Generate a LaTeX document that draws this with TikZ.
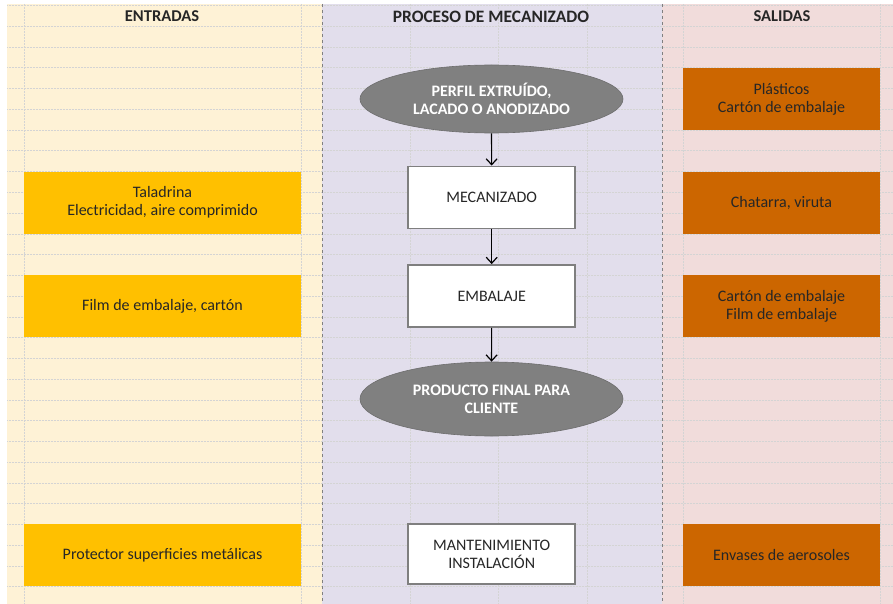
\documentclass[tikz,border=0pt]{standalone}
\usepackage{fontspec}
\setmainfont{Carlito}
\usetikzlibrary{arrows.meta,shapes.geometric}
\definecolor{leftbg}{HTML}{FEF2D6}
\definecolor{midbg}{HTML}{E2DEEC}
\definecolor{rightbg}{HTML}{F1DCDB}
\definecolor{inyel}{HTML}{FFC000}
\definecolor{outor}{HTML}{CC6600}
\definecolor{ellgray}{HTML}{808080}
\definecolor{boxline}{HTML}{7F7F7F}
\definecolor{gridc}{HTML}{D4D4D4}
\definecolor{txt}{HTML}{262626}
\tikzset{
  gridline/.style={gridc, line width=0.5pt, densely dotted},
  divider/.style={gray, line width=0.7pt, dashed},
  hdr/.style={font=\fontsize{16.5}{18}\selectfont\bfseries, text=txt},
  inbox/.style={rectangle, fill=inyel, minimum width=277pt, minimum height=62pt, align=center, text=txt, font=\fontsize{16}{18}\selectfont, inner sep=0pt},
  outbox/.style={rectangle, fill=outor, minimum width=197pt, minimum height=62pt, align=center, text=txt, font=\fontsize{16}{18}\selectfont, inner sep=0pt},
  procbox/.style={rectangle, draw=boxline, line width=1.8pt, fill=white, minimum width=167pt, minimum height=62pt, align=center, text=txt, font=\fontsize{16}{18}\selectfont, inner sep=0pt},
  terminal/.style={ellipse, fill=ellgray, draw=ellgray!85!black, line width=0.6pt, minimum width=263pt, minimum height=70pt, align=center, text=white, font=\fontsize{16}{18}\selectfont\bfseries, inner sep=0pt},
  flow/.style={-{Straight Barb[length=6pt,width=11pt]}, line width=1.2pt, black}
}
\begin{document}
\begin{tikzpicture}[x=1pt,y=-1pt]
\path[use as bounding box] (0,0) rectangle (893,604);
\fill[white] (0,0) rectangle (893,604);
\fill[leftbg] (7,4) rectangle (322,604);
\fill[midbg] (322,4) rectangle (662,604);
\fill[rightbg] (662,4) rectangle (893,604);
% grid
\foreach \i in {0,...,28} {
  \draw[gridline] (7,{5.5+\i*20.75}) -- (893,{5.5+\i*20.75});
}
\foreach \x in {24,301,410,498,587,683,880} {
  \draw[gridline] (\x,4) -- (\x,604);
}
\draw[divider] (322,4) -- (322,604);
\draw[divider] (662,4) -- (662,604);
% headers
\node[hdr] (hin) at (162,16.5) {ENTRADAS};
\node[hdr, font=\fontsize{17.4}{18}\selectfont\bfseries] (hproc) at (491,16.5) {PROCESO DE MECANIZADO};
\node[hdr] (hout) at (782,16.5) {SALIDAS};
% inputs
\node[inbox] (in1) at (162.5,202.6) {Taladrina\\Electricidad, aire comprimido};
\node[inbox] (in2) at (162.5,306.4) {Film de embalaje, cartón};
\node[inbox] (in3) at (162.5,555.4) {Protector superficies metálicas};
% outputs
\node[outbox] (out1) at (781.5,98.9) {Plásticos\\Cartón de embalaje};
\node[outbox] (out2) at (781.5,202.6) {Chatarra, viruta};
\node[outbox] (out3) at (781.5,306.4) {Cartón de embalaje\\Film de embalaje};
\node[outbox] (out4) at (781.5,555.4) {Envases de aerosoles};
% process
\node[terminal, minimum height=68pt] (start) at (491.5,99) {PERFIL EXTRUÍDO,\\LACADO O ANODIZADO};
\node[procbox] (mec) at (491.7,197.5) {MECANIZADO};
\node[procbox] (emb) at (491.7,296) {EMBALAJE};
\node[terminal, minimum height=74pt] (fin) at (491.5,399) {PRODUCTO FINAL PARA\\CLIENTE};
\node[procbox, minimum height=60pt] (mant) at (491.7,554) {MANTENIMIENTO\\INSTALACIÓN};
\draw[flow] (start) -- (mec);
\draw[flow] (mec) -- (emb);
\draw[flow] (emb) -- (fin);
\end{tikzpicture}
\end{document}
